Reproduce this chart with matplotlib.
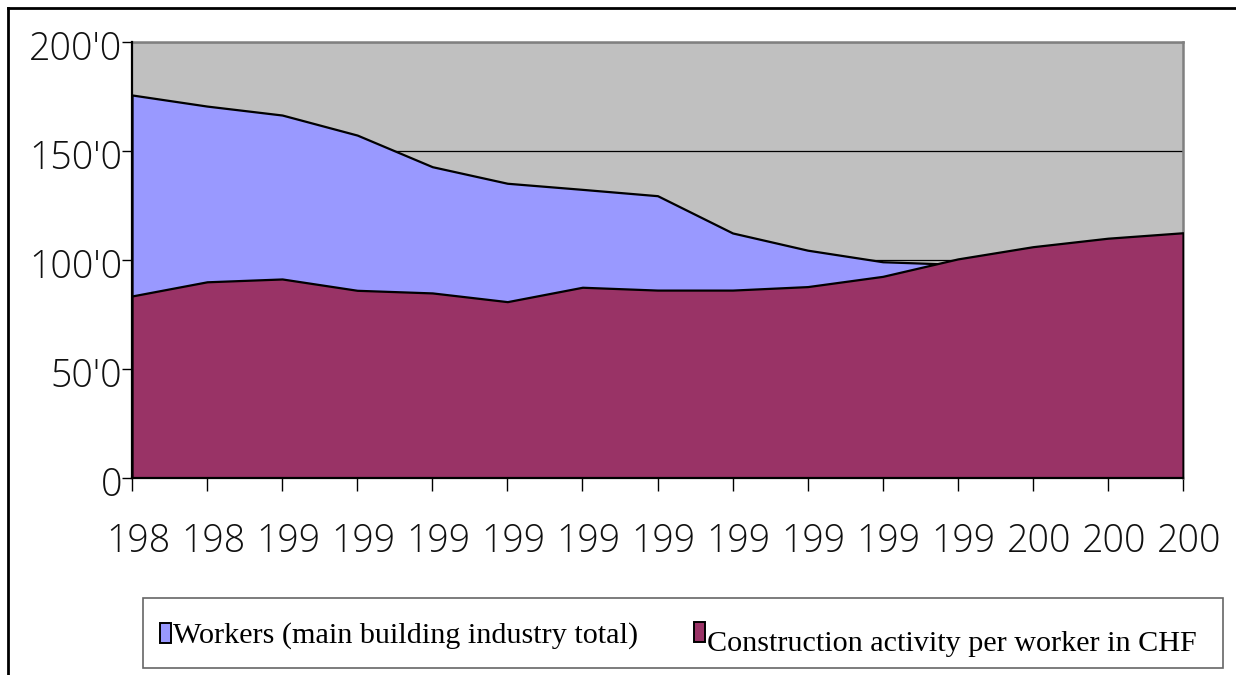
import matplotlib
matplotlib.use("Agg")
import matplotlib.pyplot as plt
import matplotlib.transforms as mtransforms
from matplotlib.patches import Rectangle
from matplotlib.lines import Line2D

# ---- data ----
x_labels = ["198", "198", "199", "199", "199", "199", "199", "199",
            "199", "199", "199", "199", "200", "200", "200"]
workers = [175.7, 170.6, 166.5, 157.3, 142.8, 135.2, 132.4, 129.5,
           112.4, 104.5, 99.2, 98.0, 97.0, 96.0, 95.0]
construction = [83.5, 90.0, 91.3, 86.1, 84.9, 80.9, 87.5, 86.2,
                86.2, 87.8, 92.5, 100.5, 106.1, 110.0, 112.5]
y_ticks = [0, 50, 100, 150, 200]
y_labels = ["0", "50'0", "100'0", "150'0", "200'0"]
series_names = ["Workers (main building industry total)",
                "Construction activity per worker in CHF"]
colors = ["#9999FF", "#993366"]

W, H = 1236, 675
fig = plt.figure(figsize=(W / 100, H / 100), dpi=100)
fig.patch.set_facecolor("white")

def fx(px):
    return px / W

def fy(py):
    return 1 - py / H

ax = fig.add_axes([fx(132), fy(478), fx(1183) - fx(132), fy(42) - fy(478)])
ax.set_facecolor("#C0C0C0")

xs = list(range(len(x_labels)))
ax.fill_between(xs, 0, workers, facecolor=colors[0], edgecolor="black",
                linewidth=1.6, zorder=2)
ax.fill_between(xs, 0, construction, facecolor=colors[1], edgecolor="black",
                linewidth=1.6, zorder=3)

ax.set_xlim(0, len(x_labels) - 1)
ax.set_ylim(0, 200)
ax.set_yticks(y_ticks)
ax.set_yticklabels(y_labels)
ax.set_xticks(xs)
ax.set_xticklabels(x_labels)

ax.set_axisbelow(True)
ax.yaxis.grid(True, color="black", linewidth=0.9)
ax.xaxis.grid(False)

for side in ["top", "right"]:
    ax.spines[side].set_color("#808080")
    ax.spines[side].set_linewidth(1.8)
for side in ["left", "bottom"]:
    ax.spines[side].set_color("black")
    ax.spines[side].set_linewidth(1.6)
    ax.spines[side].set_zorder(5)

ax.tick_params(axis="y", direction="out", length=7, width=1.0, pad=0,
               colors="black", labelsize=27)
ax.tick_params(axis="x", direction="out", length=9, width=1.0, pad=23,
               colors="black", labelsize=27)
xshift = mtransforms.ScaledTranslation(6 / 100, 0, fig.dpi_scale_trans)
yshift = mtransforms.ScaledTranslation(0, -3 / 100, fig.dpi_scale_trans)
for lab in ax.get_xticklabels():
    lab.set_transform(lab.get_transform() + xshift)
for lab in ax.get_yticklabels():
    lab.set_transform(lab.get_transform() + yshift)
for lab in ax.get_xticklabels() + ax.get_yticklabels():
    lab.set_fontfamily("Open Sans")
    lab.set_fontweight("light")
    lab.set_color("#111111")

# ---- legend box ----
leg_box = Rectangle((fx(143), fy(668)), fx(1223) - fx(143), fy(598) - fy(668),
                    transform=fig.transFigure, facecolor="white",
                    edgecolor="#666666", linewidth=1.2)
fig.add_artist(leg_box)

# legend entries
patch_specs = [(160, 623, colors[0]), (694, 622, colors[1])]
for (px, py, c) in patch_specs:
    r = Rectangle((fx(px), fy(py + 20)), fx(11), 20 / H,
                  transform=fig.transFigure, facecolor=c,
                  edgecolor="black", linewidth=1.4)
    fig.add_artist(r)

fig.text(fx(173), fy(643), series_names[0], family="Liberation Serif",
         fontsize=21.7, color="black", ha="left", va="baseline")
fig.text(fx(707), fy(651), series_names[1], family="Liberation Serif",
         fontsize=21.7, color="black", ha="left", va="baseline")

# ---- outer chart frame (partially visible) ----
fig.add_artist(Line2D([fx(8), 1.0], [fy(8), fy(8)], transform=fig.transFigure,
                      color="black", linewidth=2))
fig.add_artist(Line2D([fx(8), fx(8)], [fy(8), 0.0], transform=fig.transFigure,
                      color="black", linewidth=2))

fig.savefig("out.png", dpi=100, facecolor="white")
